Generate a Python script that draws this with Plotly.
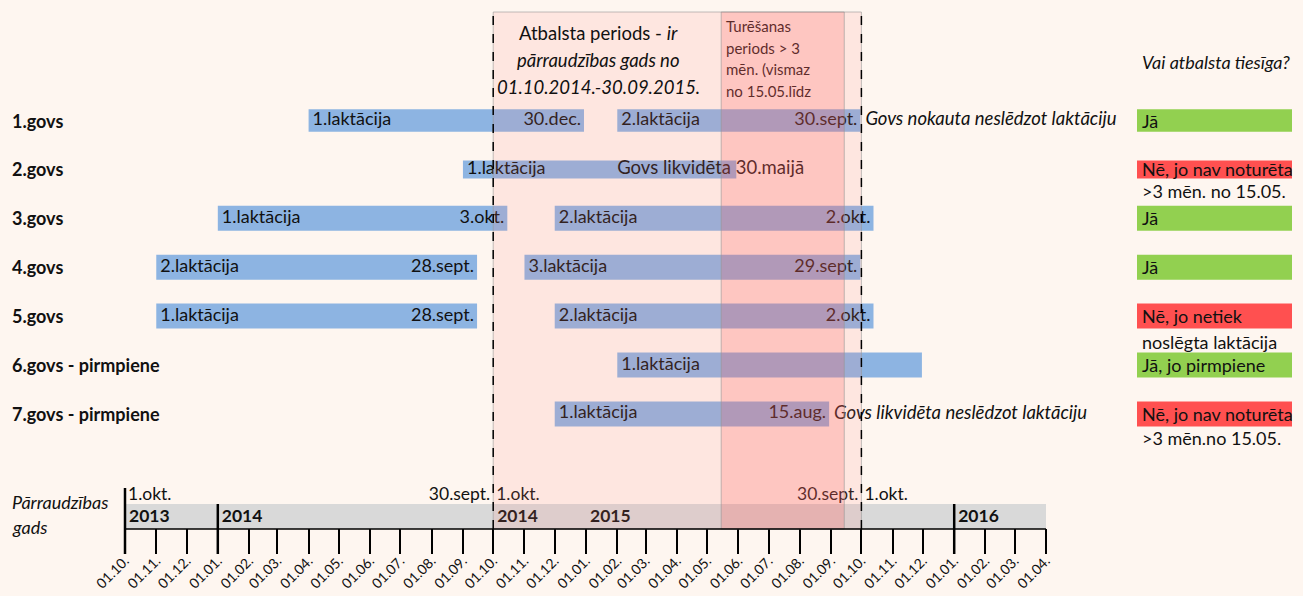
import plotly.graph_objects as go
from datetime import datetime, timedelta

# ---------------- data ----------------
cows = ["1.govs", "2.govs", "3.govs", "4.govs", "5.govs",
        "6.govs - pirmpiene", "7.govs - pirmpiene"]

# lactation bars
bar_cow = [0, 0, 1, 2, 2, 3, 3, 4, 4, 5, 6]
bar_name = ["1.laktācija", "2.laktācija", "1.laktācija", "1.laktācija", "2.laktācija",
            "2.laktācija", "3.laktācija", "1.laktācija", "2.laktācija", "1.laktācija",
            "1.laktācija"]
bar_start = ["2014-04-01", "2015-02-01", "2014-09-01", "2014-01-01", "2014-12-01",
             "2013-11-01", "2014-11-01", "2013-11-01", "2014-12-01", "2015-02-01",
             "2014-12-01"]
bar_end = ["2014-12-30", "2015-09-30", "2015-05-30", "2014-10-15", "2015-10-13",
           "2014-09-15", "2015-09-30", "2014-09-15", "2015-10-13", "2015-11-30",
           "2015-08-30"]
bar_end_label = ["30.dec.", "30.sept.", "", "3.okt.", "2.okt.",
                 "28.sept.", "29.sept.", "28.sept.", "2.okt.", "", "15.aug."]

# notes next to bars
note_cow = [0, 1, 6]
note_text = ["Govs nokauta neslēdzot laktāciju", "Govs likvidēta 30.maijā",
             "Govs likvidēta neslēdzot laktāciju"]
note_date = ["2015-09-30", "2015-01-27", "2015-08-30"]
note_italic = [True, False, True]

# periods
support_period = ["2014-10-01", "2015-10-01"]
holding_period = ["2015-05-15", "2015-09-14"]

# verdicts
verdict = ["Jā", "Nē, jo nav noturēta", "Jā", "Jā", "Nē, jo netiek",
           "Jā, jo pirmpiene", "Nē, jo nav noturēta"]
verdict_ok = [True, False, True, True, False, True, False]
verdict_extra = ["", ">3 mēn. no 15.05.", "", "", "noslēgta laktācija", "",
                 ">3 mēn.no 15.05."]

# timeline
tl_dates = ["2013-10-01", "2014-09-30", "2014-10-01", "2015-09-30", "2015-10-01"]
tl_labels = ["1.okt.", "30.sept.", "1.okt.", "30.sept.", "1.okt."]
tl_before = [False, True, False, True, False]
year_labels = ["2013", "2014", "2014", "2015", "2016"]
year_dates = ["2013-10-01", "2014-01-01", "2014-10-01", "2015-01-01", "2016-01-01"]
year_lines = ["2013-10-01", "2014-01-01", "2016-01-01"]

tick_dates = ["2013-10-01", "2013-11-01", "2013-12-01", "2014-01-01", "2014-02-01",
              "2014-03-01", "2014-04-01", "2014-05-01", "2014-06-01", "2014-07-01",
              "2014-08-01", "2014-09-01", "2014-10-01", "2014-11-01", "2014-12-01",
              "2015-01-01", "2015-02-01", "2015-03-01", "2015-04-01", "2015-05-01",
              "2015-06-01", "2015-07-01", "2015-08-01", "2015-09-01", "2015-10-01",
              "2015-11-01", "2015-12-01", "2016-01-01", "2016-02-01", "2016-03-01",
              "2016-04-01"]
tick_labels = ["01.10.", "01.11.", "01.12.", "01.01.", "01.02.", "01.03.", "01.04.",
               "01.05.", "01.06.", "01.07.", "01.08.", "01.09.", "01.10.", "01.11.",
               "01.12.", "01.01.", "01.02.", "01.03.", "01.04.", "01.05.", "01.06.",
               "01.07.", "01.08.", "01.09.", "01.10.", "01.11.", "01.12.", "01.01.",
               "01.02.", "01.03.", "01.04."]

# ---------------- geometry / style ----------------
W, H = 1303, 596
PLOT_H = 554
X0_PX, X1_PX = 125.0, 1046.0
AX_START, AX_END = datetime(2013, 10, 1), datetime(2016, 4, 1)
PX_PER_DAY = (X1_PX - X0_PX) / (AX_END - AX_START).days
ROW0_PX, ROW_STEP_PX = 120.5, 48.9
Y_LO = -ROW0_PX / ROW_STEP_PX
Y_HI = Y_LO + PLOT_H / ROW_STEP_PX
ROW_THICK = [22.5, 18, 25, 25, 25, 25, 25]

FONT = "Lato"
BG = "#FEF6F0"
BAR_COLOR = "#8DB4E2"
GREEN, RED = "#92D050", "#FF5050"
TXT = "#111111"


def D(s):
    return datetime.strptime(s, "%Y-%m-%d")


def xd(px):
    return AX_START + timedelta(days=(px - X0_PX) / PX_PER_DAY)


def pxdays(px):
    return timedelta(days=px / PX_PER_DAY)


def yv(px):
    return Y_LO + px / PLOT_H * (Y_HI - Y_LO)


def yp(px):
    return 1 - px / H


def xp(px):
    return px / W


fig = go.Figure()

# bars
starts = [D(s) for s in bar_start]
ends = [D(e) for e in bar_end]
dur = [(e - s).total_seconds() * 1000 for s, e in zip(starts, ends)]
fig.add_trace(go.Bar(
    y=bar_cow, base=bar_start, x=dur, orientation="h",
    width=[ROW_THICK[c] / ROW_STEP_PX for c in bar_cow],
    marker=dict(color=BAR_COLOR, line=dict(width=0)), hoverinfo="skip"))

# bar start labels
fig.add_trace(go.Scatter(
    x=[s + pxdays(4) for s in starts], y=bar_cow, text=bar_name, mode="text",
    textposition="middle right", textfont=dict(family=FONT, size=18, color=TXT),
    cliponaxis=False, hoverinfo="skip"))
# bar end labels
fig.add_trace(go.Scatter(
    x=[e - pxdays(3) for e in ends], y=bar_cow, text=bar_end_label, mode="text",
    textposition="middle left", textfont=dict(family=FONT, size=18, color=TXT),
    cliponaxis=False, hoverinfo="skip"))
# notes
fig.add_trace(go.Scatter(
    x=[D(d) + pxdays(5) for d in note_date], y=note_cow,
    text=[("<i>%s</i>" % t) if it else t for t, it in zip(note_text, note_italic)],
    mode="text", textposition="middle right",
    textfont=dict(family=FONT, size=18.5, color=TXT), cliponaxis=False, hoverinfo="skip"))

# holding-period text (inside the dark band)
hold_lines = ["Turēšanas", "periods > 3", "mēn. (vismaz", "no 15.05.līdz"]
fig.add_trace(go.Scatter(
    x=[xd(726)] * 4, y=[yv(p) for p in (28.5, 50, 71.5, 93)], text=hold_lines,
    mode="text", textposition="middle right",
    textfont=dict(family=FONT, size=15, color=TXT), cliponaxis=False, hoverinfo="skip"))

# timeline texts
fig.add_trace(go.Scatter(
    x=[D(d) + (pxdays(-2) if b else pxdays(3)) for d, b in zip(tl_dates, tl_before)],
    y=[yv(496)] * len(tl_dates), text=tl_labels, mode="text",
    textposition=["middle left" if b else "middle right" for b in tl_before],
    textfont=dict(family=FONT, size=17.5, color=TXT), cliponaxis=False, hoverinfo="skip"))
fig.add_trace(go.Scatter(
    x=[D(d) + pxdays(4) for d in year_dates], y=[yv(518)] * len(year_dates),
    text=["<b>%s</b>" % t for t in year_labels], mode="text", textposition="middle right",
    textfont=dict(family=FONT, size=17.5, color=TXT), cliponaxis=False, hoverinfo="skip"))

shapes = []
# grey year band
shapes.append(dict(type="rect", xref="x", yref="paper", x0=tick_dates[0], x1=tick_dates[-1],
                   y0=yp(529), y1=yp(504), fillcolor="#D9D9D9", line=dict(width=0),
                   layer="below"))
# support period overlay
shapes.append(dict(type="rect", xref="x", yref="paper", x0=support_period[0],
                   x1=support_period[1], y0=yp(529), y1=yp(12),
                   fillcolor="rgba(255,135,129,0.14)",
                   line=dict(color="rgba(150,150,150,0.6)", width=1), layer="above"))
# holding period overlay
shapes.append(dict(type="rect", xref="x", yref="paper", x0=holding_period[0],
                   x1=holding_period[1], y0=yp(529), y1=yp(12),
                   fillcolor="rgba(255,80,80,0.21)",
                   line=dict(color="rgba(150,150,150,0.6)", width=1), layer="above"))
# dashed boundaries
for d in support_period:
    shapes.append(dict(type="line", xref="x", yref="paper", x0=d, x1=d,
                       y0=yp(529), y1=yp(14), line=dict(color="black", width=1.5, dash="dash"),
                       layer="above"))
# baseline of the band
shapes.append(dict(type="line", xref="x", yref="paper", x0=tick_dates[0], x1=tick_dates[-1],
                   y0=yp(529), y1=yp(529), line=dict(color="black", width=1.5), layer="above"))
# year separators
for i, d in enumerate(year_lines):
    top = 488 if i == 0 else 504
    shapes.append(dict(type="line", xref="x", yref="paper", x0=d, x1=d,
                       y0=yp(554), y1=yp(top), line=dict(color="black", width=2.5),
                       layer="above"))
# verdict boxes
for i, ok in enumerate(verdict_ok):
    h = ROW_THICK[i] / ROW_STEP_PX / 2
    shapes.append(dict(type="rect", xref="paper", yref="y", x0=xp(1137), x1=xp(1292),
                       y0=i - h, y1=i + h, fillcolor=GREEN if ok else RED,
                       line=dict(width=0), layer="above"))

ann = []
for i, c in enumerate(cows):
    ann.append(dict(x=xp(10), y=i, xref="paper", yref="y", text="<b>%s</b>" % c,
                    xanchor="left", yanchor="middle", showarrow=False,
                    font=dict(family=FONT, size=18, color=TXT)))
for i, v in enumerate(verdict):
    ann.append(dict(x=xp(1140), y=i, xref="paper", yref="y", text=v,
                    xanchor="left", yanchor="middle", showarrow=False,
                    font=dict(family=FONT, size=18, color=TXT)))
extra_y = {1: 191, 4: 342, 6: 438}
for i, v in enumerate(verdict_extra):
    if v:
        ann.append(dict(x=xp(1140), y=yp(extra_y[i]), xref="paper", yref="paper", text=v,
                        xanchor="left", yanchor="middle", showarrow=False,
                        font=dict(family=FONT, size=18, color=TXT)))
top_lines = [("Atbalsta periods - <i>ir</i>", 33), ("<i>pārraudzības gads no</i>", 60),
             ("<i>01.10.2014.-30.09.2015.</i>", 87)]
for t, y in top_lines:
    ann.append(dict(x=xp(598), y=yp(y), xref="paper", yref="paper", text=t,
                    xanchor="center", yanchor="middle", showarrow=False,
                    font=dict(family=FONT, size=18.5, color=TXT)))
ann.append(dict(x=xp(1140), y=yp(62), xref="paper", yref="paper",
                text="<i>Vai atbalsta tiesīga?</i>", xanchor="left", yanchor="middle",
                showarrow=False, font=dict(family=FONT, size=18, color=TXT)))
for t, y in (("<i>Pārraudzības</i>", 502), ("<i>gads</i>", 527)):
    ann.append(dict(x=xp(10), y=yp(y), xref="paper", yref="paper", text=t,
                    xanchor="left", yanchor="middle", showarrow=False,
                    font=dict(family=FONT, size=18, color=TXT)))

fig.update_layout(
    width=W, height=H, margin=dict(l=0, r=0, t=0, b=0, autoexpand=False),
    paper_bgcolor=BG, plot_bgcolor="rgba(0,0,0,0)", showlegend=False,
    barmode="overlay", hovermode=False, shapes=shapes, annotations=ann,
    xaxis=dict(type="date", range=[xd(0), xd(W)], domain=[0, 1], tickmode="array",
               tickvals=tick_dates, ticktext=tick_labels, tickangle=-45, ticks="inside",
               ticklen=25, tickwidth=1.5, tickcolor="black", showgrid=False,
               zeroline=False, showline=False, ticklabelstandoff=-5, automargin=False,
               tickfont=dict(family=FONT, size=14, color=TXT), fixedrange=True),
    yaxis=dict(range=[Y_HI, Y_LO], domain=[1 - PLOT_H / H, 1], showgrid=False,
               zeroline=False, showticklabels=False, showline=False, fixedrange=True,
               automargin=False),
)

post = """
document.body.style.margin='0';
document.querySelectorAll('.plotly-graph-div').forEach(function(g){ g.style.overflow='hidden'; });
"""
fig.write_html("out.html", config={"displayModeBar": False}, post_script=post)
